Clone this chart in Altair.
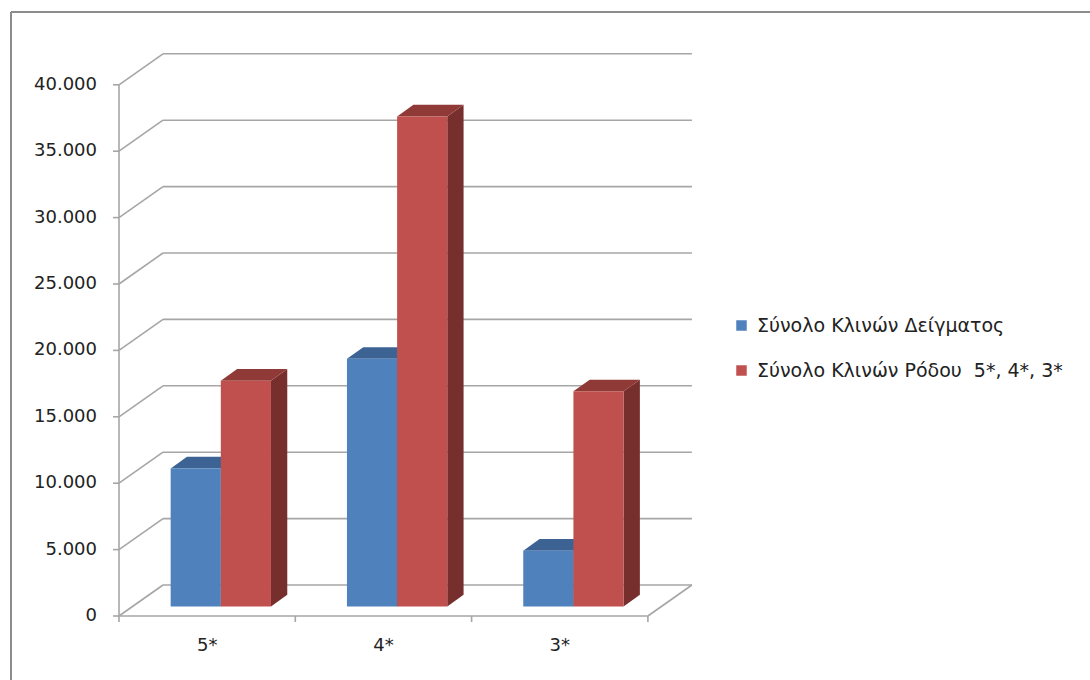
import altair as alt
import pandas as pd

# ---------------- data ----------------
categories = ["5*", "4*", "3*"]
series_names = ["Σύνολο Κλινών Δείγματος", "Σύνολο Κλινών Ρόδου\u00a0 5*, 4*, 3*"]
sample_beds = [10400, 18650, 4200]
rhodes_beds = [17000, 36900, 16200]
y_ticks = [0, 5000, 10000, 15000, 20000, 25000, 30000, 35000, 40000]
y_tick_labels = ["0", "5.000", "10.000", "15.000", "20.000", "25.000", "30.000", "35.000", "40.000"]

# ---------------- layout / pseudo-3D projection constants ----------------
W, H = 573, 563
PX_PER_UNIT = 176.3
X_MAX = W / PX_PER_UNIT
Y_MAX = 42394
PX_PER_VAL = H / Y_MAX
BACK_DX, BACK_DY = 0.2496, 2334      # offset of the back wall
BAR_DX, BAR_DY = 0.077, 715          # depth of bar front faces
FACE_DX, FACE_DY = 0.0925, 880       # bar depth (top / side faces)
BAR_W = 0.2845
GAP = 0.216
FONT = "DejaVu Sans"

values = [sample_beds, rhodes_beds]

front_rows, top_rows, side_rows = [], [], []
for i, cat in enumerate(categories):
    for j, name in enumerate(series_names):
        v = values[j][i]
        x0 = i + GAP + j * BAR_W + BAR_DX
        x1 = x0 + BAR_W
        y0 = BAR_DY
        y1 = BAR_DY + v
        bar = f"b{i}{j}"
        front_rows.append(dict(bar=bar, sid=j, series=name, cat=cat, value=v,
                               x0=x0, x1=x1, y0=y0, y1=y1))
        top_rows += [
            dict(bar=bar, sid=j, x=x0, ya=y1, yb=y1),
            dict(bar=bar, sid=j, x=x0 + FACE_DX, ya=y1, yb=y1 + FACE_DY),
            dict(bar=bar, sid=j, x=x1, ya=y1, yb=y1 + FACE_DY),
            dict(bar=bar, sid=j, x=x1 + FACE_DX, ya=y1 + FACE_DY, yb=y1 + FACE_DY),
        ]
        side_rows += [
            dict(bar=bar, sid=j, x=x1, ya=y0, yb=y1),
            dict(bar=bar, sid=j, x=x1 + FACE_DX, ya=y0 + FACE_DY, yb=y1 + FACE_DY),
        ]

front = pd.DataFrame(front_rows)
tops = pd.DataFrame(top_rows)
sides = pd.DataFrame(side_rows)

seg_rows = []
n = len(categories)
for v in y_ticks:
    seg_rows.append(dict(x0=BACK_DX, x1=n + BACK_DX, y0=v + BACK_DY, y1=v + BACK_DY))
    seg_rows.append(dict(x0=0, x1=BACK_DX, y0=v, y1=v + BACK_DY))
    seg_rows.append(dict(x0=-6 / PX_PER_UNIT, x1=0, y0=v, y1=v))
seg_rows.append(dict(x0=0, x1=n, y0=0, y1=0))
seg_rows.append(dict(x0=n, x1=n + BACK_DX, y0=0, y1=BACK_DY))
seg_rows.append(dict(x0=0, x1=0, y0=0, y1=y_ticks[-1]))
for k in range(n + 1):
    seg_rows.append(dict(x0=k, x1=k, y0=0, y1=-6 / PX_PER_VAL))
segments = pd.DataFrame(seg_rows)

# outer chart-area frame (top and left edges)
fx = -108 / PX_PER_UNIT
fy_top = Y_MAX + 41 / PX_PER_VAL
fy_bot = -90 / PX_PER_VAL
frame = pd.DataFrame([
    dict(x0=fx, x1=X_MAX + 420 / PX_PER_UNIT, y0=fy_top, y1=fy_top),
    dict(x0=fx, x1=fx, y0=fy_top, y1=fy_bot),
])

labels = pd.DataFrame(dict(cat=categories, xc=[i + 0.5 for i in range(n)],
                           yl=[-30 / PX_PER_VAL] * n))
ylabels = pd.DataFrame(dict(v=y_ticks, t=y_tick_labels, xl=[-22 / PX_PER_UNIT] * len(y_ticks)))

xs = alt.Scale(domain=[0, X_MAX])
ys = alt.Scale(domain=[0, Y_MAX])

BLUE, RED = "#4F81BD", "#C0504D"
TOP_COLORS = ["#3C6393", "#8F3A37"]
SIDE_COLORS = ["#2F4F78", "#772F2D"]

frame_layer = alt.Chart(frame).mark_rule(color="#8c8c8c", strokeWidth=2).encode(
    x=alt.X("x0:Q", scale=xs, axis=None), x2="x1:Q",
    y=alt.Y("y0:Q", scale=ys, axis=None), y2="y1:Q",
)

grid = alt.Chart(segments).mark_rule(color="#a6a6a6", strokeWidth=1.6).encode(
    x=alt.X("x0:Q", scale=xs, axis=None), x2="x1:Q",
    y=alt.Y("y0:Q", scale=ys, axis=None), y2="y1:Q",
)

layers = [frame_layer, grid]
for j in range(len(series_names)):
    for df, cols in ((sides, SIDE_COLORS), (tops, TOP_COLORS)):
        layers.append(
            alt.Chart(df[df.sid == j]).mark_area(color=cols[j]).encode(
                x=alt.X("x:Q", scale=xs, axis=None),
                y=alt.Y("ya:Q", scale=ys, axis=None), y2="yb:Q",
                detail="bar:N",
            )
        )

front_layer = alt.Chart(front).mark_rect().encode(
    x=alt.X("x0:Q", scale=xs, axis=None), x2="x1:Q",
    y=alt.Y("y0:Q", scale=ys, axis=None), y2="y1:Q",
    color=alt.Color("series:N", scale=alt.Scale(domain=series_names, range=[BLUE, RED]),
                    legend=alt.Legend(title=None, orient="none", legendX=613, legendY=263,
                                      symbolType="square", symbolSize=110,
                                      labelFontSize=19, labelFont=FONT, labelColor="#222222",
                                      labelOffset=6, rowPadding=25, labelLimit=450)),
)
layers.append(front_layer)

cat_text = alt.Chart(labels).mark_text(fontSize=18, font=FONT, color="#222222", baseline="middle").encode(
    x=alt.X("xc:Q", scale=xs, axis=None),
    y=alt.Y("yl:Q", scale=ys, axis=None),
    text="cat:N",
)
layers.append(cat_text)

y_text = alt.Chart(ylabels).mark_text(fontSize=18, font=FONT, color="#222222", baseline="middle",
                                      align="right").encode(
    x=alt.X("xl:Q", scale=xs, axis=None),
    y=alt.Y("v:Q", scale=ys, axis=None),
    text="t:N",
)
layers.append(y_text)

chart = alt.layer(*layers).properties(
    width=W, height=H,
    autosize=alt.AutoSizeParams(type="none"),
    padding={"left": 119, "top": 53, "right": 1090 - 119 - W, "bottom": 680 - 53 - H},
    background="white",
).configure_view(strokeWidth=0)

chart.save("out.html", embed_options={"renderer": "svg", "actions": False})
